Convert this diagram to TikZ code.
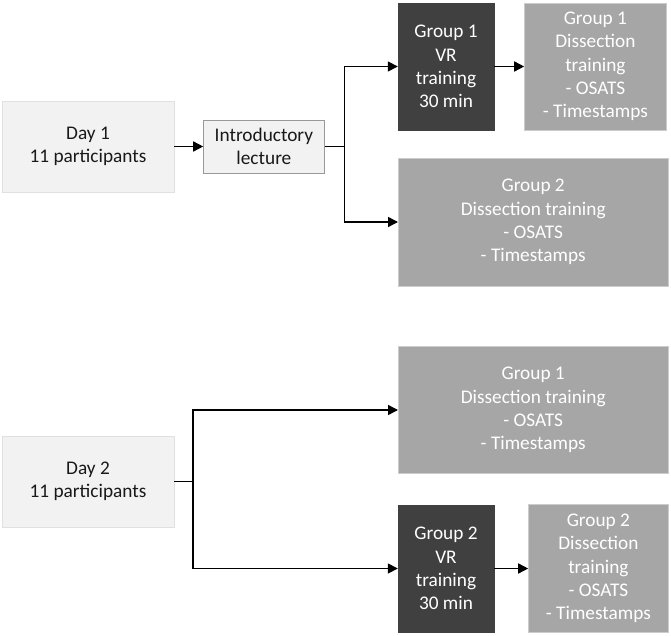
\documentclass[tikz,border=0pt]{standalone}
\usepackage{fontspec}
\setmainfont{Carlito}
\usepackage{tikz}
\usetikzlibrary{arrows.meta, positioning, calc}
\definecolor{lightbox}{HTML}{F2F2F2}
\definecolor{midbox}{HTML}{A6A6A6}
\definecolor{darkbox}{HTML}{404040}
\tikzstyle{daybox} = [rectangle, minimum width=172pt, minimum height=91pt, text centered, align=center, fill=lightbox, draw=black!12, text=black!90]
\tikzstyle{lecture} = [rectangle, minimum width=121pt, minimum height=53pt, text centered, align=center, fill=lightbox, draw=black!40, text=black!90]
\tikzstyle{vrbox} = [rectangle, minimum width=96pt, minimum height=127pt, text centered, align=center, fill=darkbox, draw=darkbox, text=white]
\tikzstyle{dissect} = [rectangle, minimum height=127pt, text centered, align=center, fill=midbox, draw=black!20, text=white]
\tikzstyle{arrow} = [line width=1.5pt, -{Triangle[length=10pt,width=10pt]}]
\tikzstyle{line} = [line width=1.5pt]

\begin{document}
\begin{tikzpicture}[x=1pt, y=1pt, node distance=30pt, font=\fontsize{19.3pt}{23.3pt}\selectfont, inner sep=0pt]
\useasboundingbox (0,0) rectangle (671,-636);

% Day 1
\node (day1) [daybox] at (88,-146.5) {Day 1\\11 participants};
\node (intro) [lecture, right=29pt of day1] {Introductory\\lecture};
\node (g1vr) [vrbox] at (446,-66.5) {Group 1\\VR\\training\\30 min};
\node (g1dis) [dissect, minimum width=142pt, right=30pt of g1vr] {Group 1\\Dissection\\training\\- OSATS\\- Timestamps};
\node (g2dis) [dissect, minimum width=270pt, minimum height=128pt, anchor=west] at (398,-222) {Group 2\\Dissection training\\- OSATS\\- Timestamps};

\draw [arrow] (day1) -- (intro);
\draw [line] (intro.east) -- ++(20,0) coordinate (split1);
\draw [arrow] (split1) |- (g1vr);
\draw [arrow] (split1) |- (g2dis);
\draw [arrow] (g1vr) -- (g1dis);

% Day 2
\node (day2) [daybox] at (88,-481.5) {Day 2\\11 participants};
\node (b1dis) [dissect, minimum width=270pt, anchor=west] at (398,-410) {Group 1\\Dissection training\\- OSATS\\- Timestamps};
\node (b2vr) [vrbox] at (446,-568.5) {Group 2\\VR\\training\\30 min};
\node (b2dis) [dissect, minimum width=140pt, minimum height=128pt, right=34pt of b2vr] {Group 2\\Dissection\\training\\- OSATS\\- Timestamps};

\draw [line] (day2.east) -- ++(19,0) coordinate (split2);
\draw [arrow] (split2) |- (b1dis);
\draw [arrow] (split2) |- (b2vr);
\draw [arrow] (b2vr) -- (b2dis);
\end{tikzpicture}
\end{document}
